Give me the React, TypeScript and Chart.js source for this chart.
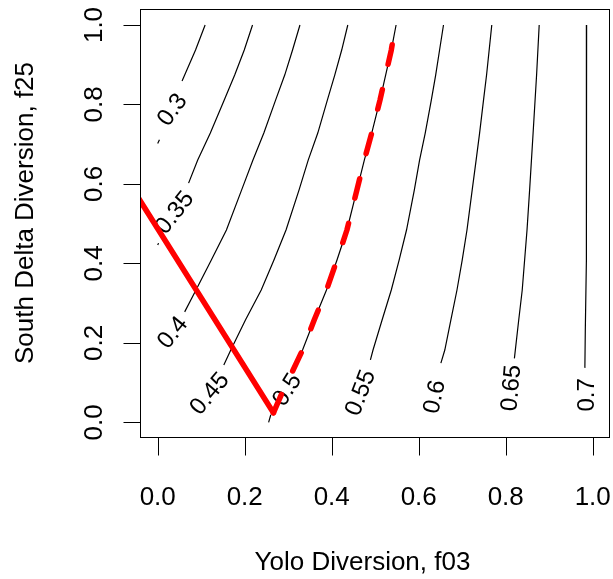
import React, { useEffect, useRef } from "react";
import { Chart, registerables } from "chart.js";

Chart.register(...registerables);

type P = [number, number] | null;

// ---- axis ticks / titles ----
const xTicks = [0, 0.2, 0.4, 0.6, 0.8, 1.0];
const xTickLabels = ["0.0", "0.2", "0.4", "0.6", "0.8", "1.0"];
const yTicks = [0, 0.2, 0.4, 0.6, 0.8, 1.0];
const yTickLabels = ["0.0", "0.2", "0.4", "0.6", "0.8", "1.0"];
const xTitle = "Yolo Diversion, f03";
const yTitle = "South Delta Diversion, f25";

// ---- contour levels and lines (x = f03, y = f25); null = break for label ----
const contourLevels = ["0.3", "0.35", "0.4", "0.45", "0.5", "0.55", "0.6", "0.65", "0.7"];

const contour030: P[] = [[0.109, 1.0], [0.087, 0.937], [0.062, 0.874], [0.056, 0.859], null, [0.004, 0.711], [0.0, 0.702]];
const contour035: P[] = [[0.218, 1.0], [0.199, 0.937], [0.177, 0.874], [0.153, 0.811], [0.121, 0.728], [0.092, 0.66], [0.071, 0.602], null, [0.002, 0.451], [0.0, 0.446]];
const contour040: P[] = [[0.327, 1.0], [0.31, 0.937], [0.292, 0.874], [0.271, 0.811], [0.244, 0.728], [0.219, 0.66], [0.193, 0.585], [0.158, 0.484], [0.123, 0.408], [0.088, 0.333], [0.062, 0.278]];
const contour045: P[] = [[0.437, 1.0], [0.423, 0.937], [0.407, 0.874], [0.39, 0.811], [0.368, 0.728], [0.346, 0.66], [0.325, 0.585], [0.295, 0.484], [0.267, 0.408], [0.238, 0.333], [0.202, 0.258], [0.168, 0.182], [0.152, 0.144]];
const contour050: P[] = [[0.548, 1.0], [0.537, 0.937], [0.524, 0.874], [0.511, 0.811], [0.492, 0.728], [0.475, 0.66], [0.458, 0.585], [0.435, 0.484], [0.412, 0.408], [0.388, 0.333], [0.36, 0.258], [0.333, 0.182], [0.308, 0.124], null, [0.26, 0.019], [0.255, 0.0]];
const contour055: P[] = [[0.657, 1.0], [0.648, 0.937], [0.639, 0.874], [0.629, 0.811], [0.615, 0.728], [0.602, 0.66], [0.59, 0.585], [0.572, 0.484], [0.555, 0.408], [0.537, 0.333], [0.516, 0.258], [0.495, 0.182], [0.489, 0.157]];
const contour060: P[] = [[0.768, 1.0], [0.762, 0.937], [0.756, 0.874], [0.749, 0.811], [0.74, 0.728], [0.732, 0.66], [0.723, 0.585], [0.711, 0.484], [0.7, 0.408], [0.688, 0.333], [0.674, 0.258], [0.66, 0.182], [0.651, 0.149]];
const contour065: P[] = [[0.877, 1.0], [0.871, 0.874], [0.863, 0.728], [0.855, 0.585], [0.849, 0.484], [0.838, 0.333], [0.83, 0.258], [0.82, 0.161]];
const contour070: P[] = [[0.986, 1.0], [0.986, 0.686], [0.985, 0.408], [0.983, 0.232], [0.982, 0.137]];

const contourLines = [contour030, contour035, contour040, contour045, contour050, contour055, contour060, contour065, contour070];

// contour label anchor points (data coordinates)
const labelX = [0.0345, 0.0398, 0.0352, 0.1202, 0.2984, 0.4674, 0.6375, 0.8138, 0.9869];
const labelY = [0.786, 0.527, 0.225, 0.0712, 0.0813, 0.0737, 0.0637, 0.0863, 0.069];

// ---- red lines ----
const tradeoffLine: P[] = [[-0.06, 0.592], [0.266, 0.024]];
const frontierLine: P[] = [[0.266, 0.024], [0.286, 0.074], [0.308, 0.124], [0.333, 0.182], [0.36, 0.258], [0.388, 0.333], [0.412, 0.408], [0.435, 0.484], [0.458, 0.585], [0.475, 0.66], [0.492, 0.728], [0.511, 0.811], [0.524, 0.874], [0.537, 0.937], [0.542, 0.97]];

// ---- styling (kept separate from data) ----
const labelAngles = [-54, -52, -51, -50, -58, -69, -78, -85, -90];
const FONT = '"Liberation Sans", Arial, Helvetica, sans-serif';

function segments(pts: P[]): { x: number; y: number }[][] {
  const out: { x: number; y: number }[][] = [];
  let cur: { x: number; y: number }[] = [];
  for (const p of pts) {
    if (p === null) {
      if (cur.length) out.push(cur);
      cur = [];
    } else cur.push({ x: p[0], y: p[1] });
  }
  if (cur.length) out.push(cur);
  return out;
}

export default function App() {
  const ref = useRef<HTMLCanvasElement | null>(null);

  useEffect(() => {
    const canvas = ref.current;
    if (!canvas) return;

    const datasets: any[] = [];
    segments(tradeoffLine).forEach((seg) =>
      datasets.push({
        data: seg, showLine: true, borderColor: "#ff0000", borderWidth: 5.5,
        pointRadius: 0, tension: 0, borderCapStyle: "round", borderJoinStyle: "round",
        order: 0, clip: 0, isRed: true,
      })
    );
    segments(frontierLine).forEach((seg) =>
      datasets.push({
        data: seg, showLine: true, borderColor: "#ff0000", borderWidth: 5.5,
        pointRadius: 0, tension: 0, borderCapStyle: "round", borderJoinStyle: "round",
        borderDash: [20, 26], order: 0, clip: 0, isRed: true,
      })
    );
    contourLines.forEach((line) =>
      segments(line).forEach((seg) =>
        datasets.push({
          data: seg, showLine: true, borderColor: "#000000", borderWidth: 1.2,
          pointRadius: 0, tension: 0, order: 1, clip: 0,
        })
      )
    );

    let labelsDrawn = false;
    const drawLabels = (chart: any) => {
      const ctx = chart.ctx as CanvasRenderingContext2D;
      const xs = chart.scales.x;
      const ys = chart.scales.y;
      ctx.save();
      ctx.fillStyle = "#000";
      ctx.font = `24px ${FONT}`;
      ctx.textBaseline = "middle";
      ctx.textAlign = "center";
      contourLevels.forEach((txt, i) => {
        const px = xs.getPixelForValue(labelX[i]);
        const py = ys.getPixelForValue(labelY[i]);
        ctx.save();
        ctx.translate(px, py);
        ctx.rotate((labelAngles[i] * Math.PI) / 180);
        ctx.fillText(txt, 0, 0);
        ctx.restore();
      });
      ctx.restore();
    };

    const rAxes = {
      id: "rAxes",
      beforeDraw(chart: any) {
        labelsDrawn = false;
        const ctx = chart.ctx as CanvasRenderingContext2D;
        ctx.save();
        ctx.fillStyle = "#ffffff";
        ctx.fillRect(0, 0, chart.width, chart.height);
        ctx.restore();
      },
      beforeDatasetDraw(chart: any, args: any) {
        const ds = chart.data.datasets[args.index];
        if (ds.isRed && !labelsDrawn) {
          drawLabels(chart);
          labelsDrawn = true;
        }
      },
      afterDraw(chart: any) {
        const ctx = chart.ctx as CanvasRenderingContext2D;
        const a = chart.chartArea;
        const xs = chart.scales.x;
        const ys = chart.scales.y;
        ctx.save();
        ctx.strokeStyle = "#000";
        ctx.lineWidth = 1;
        // box
        const L = Math.floor(a.left) + 0.5;
        const R = Math.floor(a.right) - 0.5;
        const T = Math.floor(a.top) + 0.5;
        const B = Math.floor(a.bottom) - 0.5;
        ctx.strokeRect(L, T, R - L, B - T);
        // x ticks
        ctx.fillStyle = "#000";
        ctx.font = `26px ${FONT}`;
        ctx.textAlign = "center";
        ctx.textBaseline = "alphabetic";
        xTicks.forEach((v, i) => {
          const px = Math.round(xs.getPixelForValue(v)) + 0.5;
          ctx.beginPath();
          ctx.moveTo(px, B);
          ctx.lineTo(px, B + 18);
          ctx.stroke();
          ctx.fillText(xTickLabels[i], xs.getPixelForValue(v), 505);
        });
        // y ticks
        yTicks.forEach((v, i) => {
          const py = Math.round(ys.getPixelForValue(v)) + 0.5;
          ctx.beginPath();
          ctx.moveTo(L, py);
          ctx.lineTo(L - 17, py);
          ctx.stroke();
          ctx.save();
          ctx.translate(102, ys.getPixelForValue(v));
          ctx.rotate(-Math.PI / 2);
          ctx.fillText(yTickLabels[i], 0, 0);
          ctx.restore();
        });
        // titles
        ctx.font = `26px ${FONT}`;
        ctx.fillText(xTitle, 362.5, 570);
        ctx.save();
        ctx.translate(33, 213);
        ctx.rotate(-Math.PI / 2);
        ctx.fillText(yTitle, 0, 0);
        ctx.restore();
        ctx.restore();
      },
    };

    const chart = new Chart(canvas, {
      type: "scatter",
      data: { datasets },
      options: {
        animation: false,
        responsive: false,
        devicePixelRatio: 1,
        events: [],
        layout: { padding: { left: 140.3, right: 2.9, top: 9.1, bottom: 140.8 } },
        scales: {
          x: { type: "linear", min: -0.04, max: 1.04, display: false },
          y: { type: "linear", min: -0.04, max: 1.04, display: false },
        },
        plugins: { legend: { display: false }, tooltip: { enabled: false } },
      },
      plugins: [rAxes],
    } as any);

    return () => chart.destroy();
  }, []);

  return (
    <div style={{ position: "absolute", left: 0, top: 0, width: 613, height: 579, background: "#fff" }}>
      <canvas ref={ref} width={613} height={579} style={{ display: "block" }} />
    </div>
  );
}
